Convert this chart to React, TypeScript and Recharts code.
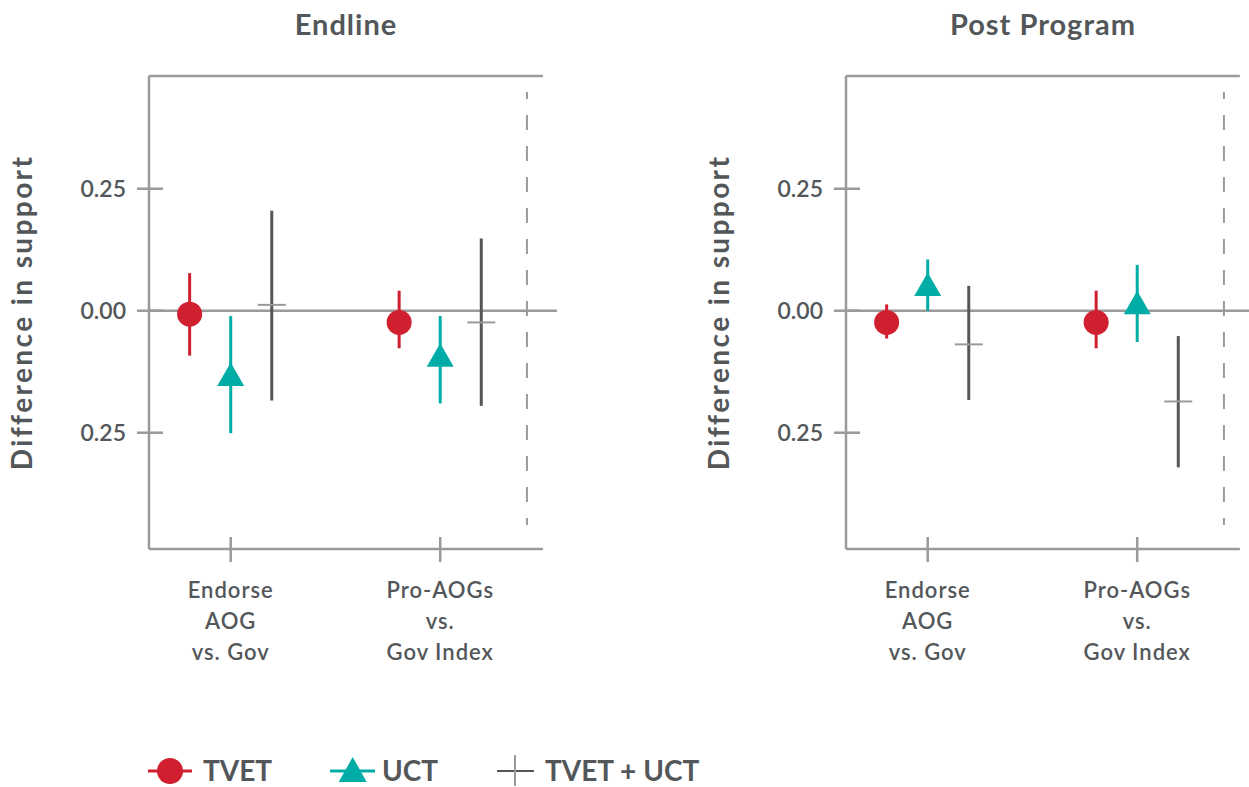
import React from 'react';
import { ScatterChart, Scatter, ErrorBar, XAxis, YAxis, ReferenceLine } from 'recharts';

// ---- data -------------------------------------------------------------
const CATEGORY_LINES: string[][] = [
  ['Endorse', 'AOG', 'vs. Gov'],
  ['Pro-AOGs', 'vs.', 'Gov Index'],
];
const PANEL_TITLES = ['Endline', 'Post Program'];
const SERIES_NAMES = ['TVET', 'UCT', 'TVET + UCT'];
const Y_TICKS = [0.25, 0, -0.25];
const Y_TICK_LABELS = ['0.25', '0.00', '0.25'];
const Y_TITLE = 'Difference in support';

// Endline estimates and 95% intervals
const TVET_END_EST = [-0.007, -0.024];
const TVET_END_LO = [-0.092, -0.077];
const TVET_END_HI = [0.077, 0.041];
const UCT_END_EST = [-0.138, -0.099];
const UCT_END_LO = [-0.251, -0.19];
const UCT_END_HI = [-0.011, -0.011];
const BOTH_END_EST = [0.012, -0.024];
const BOTH_END_LO = [-0.184, -0.195];
const BOTH_END_HI = [0.205, 0.148];

// Post-program estimates and 95% intervals
const TVET_POST_EST = [-0.024, -0.024];
const TVET_POST_LO = [-0.057, -0.077];
const TVET_POST_HI = [0.013, 0.041];
const UCT_POST_EST = [0.046, 0.009];
const UCT_POST_LO = [0.0, -0.064];
const UCT_POST_HI = [0.105, 0.094];
const BOTH_POST_EST = [-0.069, -0.186];
const BOTH_POST_LO = [-0.183, -0.321];
const BOTH_POST_HI = [0.051, -0.052];

// ---- style ------------------------------------------------------------
const RED = '#D01F2E';
const TEAL = '#00ADA6';
const DARK = '#53575A';
const AXIS = '#9A9A9A';
const TEXT = '#53575A';
const FONT = 'Lato, "Open Sans", sans-serif';

const X_DOMAIN: [number, number] = [0.61, 2.5575];
const Y_DOMAIN: [number, number] = [-0.4883, 0.481];
const FRAME_RIGHT = 2.49;
const DASH_X = 2.414;
const DODGE = 0.196;

type Row = { x: number; y: number; err: [number, number] };

const buildRows = (est: number[], lo: number[], hi: number[], offset: number): Row[] =>
  est.map((v, i) => ({ x: i + 1 + offset, y: v, err: [v - lo[i], hi[i] - v] }));

const RedDot = (p: any) => <circle cx={p.cx} cy={p.cy} r={12.5} fill={RED} />;

const TealTriangle = (p: any) => {
  const w = 27;
  const h = 23.5;
  const { cx, cy } = p;
  const d = `M${cx},${cy - (2 * h) / 3} L${cx + w / 2},${cy + h / 3} L${cx - w / 2},${cy + h / 3} Z`;
  return <path d={d} fill={TEAL} />;
};

const GreyDash = (p: any) => (
  <line x1={p.cx - 14} x2={p.cx + 14} y1={p.cy} y2={p.cy} stroke={AXIS} strokeWidth={2} />
);

const YTick = (p: any) => {
  const { x, y, index } = p;
  return (
    <g>
      <line x1={x - 12} x2={x + 14} y1={y} y2={y} stroke={AXIS} strokeWidth={2.5} />
      <text x={x - 23} y={y} dy="0.36em" textAnchor="end" fill={TEXT} fontSize={23} fontWeight={600}
        fontFamily={FONT}>
        {Y_TICK_LABELS[index]}
      </text>
    </g>
  );
};

const XTick = (p: any) => {
  const { x, y, index } = p;
  const lines = CATEGORY_LINES[index] || [];
  return (
    <g>
      <line x1={x} x2={x} y1={y - 12} y2={y + 13} stroke={AXIS} strokeWidth={2.5} />
      {lines.map((t, i) => (
        <text key={i} x={x} y={y + 49 + i * 31} textAnchor="middle" fill={TEXT} fontSize={22} fontWeight={600}
          fontFamily={FONT} letterSpacing={1}>
          {t}
        </text>
      ))}
    </g>
  );
};

const YTitle = (p: any) => {
  const vb = p.viewBox || {};
  const cx = vb.x + 22;
  const cy = vb.y + vb.height / 2;
  return (
    <text x={cx} y={cy} transform={`rotate(-90 ${cx} ${cy})`} textAnchor="middle" dy="0.36em" fill={TEXT}
      fontSize={28} fontWeight={700} fontFamily={FONT} letterSpacing={2.4}>
      {Y_TITLE}
    </text>
  );
};

type PanelProps = { left: number; title: string; tvet: Row[]; uct: Row[]; both: Row[] };

const Panel = ({ left, title, tvet, uct, both }: PanelProps) => (
  <div style={{ position: 'absolute', left, top: 0, width: 600, height: 680 }}>
    <div
      style={{
        position: 'absolute', left: 149, width: 394, top: 8, height: 32, lineHeight: '32px',
        textAlign: 'center', color: TEXT, fontFamily: FONT, fontWeight: 700, fontSize: 29, letterSpacing: 1,
      }}
    >
      {title}
    </div>
    <ScatterChart width={600} height={680} margin={{ top: 76, right: 43, left: 0, bottom: 0 }}>
      <XAxis
        type="number" dataKey="x" domain={X_DOMAIN} ticks={[1, 2]} allowDataOverflow
        axisLine={false} tickLine={false} tickSize={0} tickMargin={0} height={131} tick={<XTick />}
        interval={0}
      />
      <YAxis
        type="number" dataKey="y" domain={Y_DOMAIN} ticks={Y_TICKS} allowDataOverflow
        axisLine={{ stroke: AXIS, strokeWidth: 2.5 }} tickLine={false} tickSize={0} tickMargin={0}
        width={149} tick={<YTick />} interval={0} label={{ content: <YTitle /> }}
      />
      <ReferenceLine
        segment={[{ x: X_DOMAIN[0], y: Y_DOMAIN[1] }, { x: FRAME_RIGHT, y: Y_DOMAIN[1] }]}
        stroke={AXIS} strokeWidth={2.5} ifOverflow="visible"
      />
      <ReferenceLine
        segment={[{ x: X_DOMAIN[0], y: Y_DOMAIN[0] }, { x: FRAME_RIGHT, y: Y_DOMAIN[0] }]}
        stroke={AXIS} strokeWidth={2.5} ifOverflow="visible"
      />
      <ReferenceLine y={0} stroke={AXIS} strokeWidth={2.5} />
      <ReferenceLine
        segment={[{ x: DASH_X, y: 0.448 }, { x: DASH_X, y: -0.439 }]}
        stroke={AXIS} strokeWidth={2} strokeDasharray="15 16" strokeDashoffset={8}
      />
      <Scatter name={SERIES_NAMES[0]} data={tvet} shape={<RedDot />} isAnimationActive={false}>
        <ErrorBar dataKey="err" direction="y" width={0} stroke={RED} strokeWidth={3} />
      </Scatter>
      <Scatter name={SERIES_NAMES[1]} data={uct} shape={<TealTriangle />} isAnimationActive={false}>
        <ErrorBar dataKey="err" direction="y" width={0} stroke={TEAL} strokeWidth={3} />
      </Scatter>
      <Scatter name={SERIES_NAMES[2]} data={both} shape={<GreyDash />} isAnimationActive={false}>
        <ErrorBar dataKey="err" direction="y" width={0} stroke={DARK} strokeWidth={3} />
      </Scatter>
    </ScatterChart>
  </div>
);

const Legend = () => (
  <svg width={800} height={47} style={{ position: 'absolute', left: 0, top: 747 }}>
    <g fontFamily={FONT} fontWeight={700} fontSize={28} fill={TEXT}>
      <line x1={148} x2={192} y1={24} y2={24} stroke={RED} strokeWidth={3} />
      <circle cx={170} cy={24} r={13} fill={RED} />
      <text x={203} y={24} dy="0.36em">{SERIES_NAMES[0]}</text>

      <line x1={330} x2={375} y1={24} y2={24} stroke={TEAL} strokeWidth={3} />
      <path d="M352.7,10 L366.7,35 L338.7,35 Z" fill={TEAL} />
      <text x={382} y={24} dy="0.36em">{SERIES_NAMES[1]}</text>

      <line x1={497} x2={534} y1={24} y2={24} stroke={DARK} strokeWidth={2} />
      <line x1={515} x2={515} y1={8} y2={39} stroke={AXIS} strokeWidth={2} />
      <text x={545} y={24} dy="0.36em">{SERIES_NAMES[2]}</text>
    </g>
  </svg>
);

export default function App() {
  return (
    <div style={{ position: 'absolute', left: 0, top: 0, width: 1249, height: 787, overflow: 'hidden', background: '#fff' }}>
      <Panel
        left={0}
        title={PANEL_TITLES[0]}
        tvet={buildRows(TVET_END_EST, TVET_END_LO, TVET_END_HI, -DODGE)}
        uct={buildRows(UCT_END_EST, UCT_END_LO, UCT_END_HI, 0)}
        both={buildRows(BOTH_END_EST, BOTH_END_LO, BOTH_END_HI, DODGE)}
      />
      <Panel
        left={697}
        title={PANEL_TITLES[1]}
        tvet={buildRows(TVET_POST_EST, TVET_POST_LO, TVET_POST_HI, -DODGE)}
        uct={buildRows(UCT_POST_EST, UCT_POST_LO, UCT_POST_HI, 0)}
        both={buildRows(BOTH_POST_EST, BOTH_POST_LO, BOTH_POST_HI, DODGE)}
      />
      <Legend />
    </div>
  );
}
